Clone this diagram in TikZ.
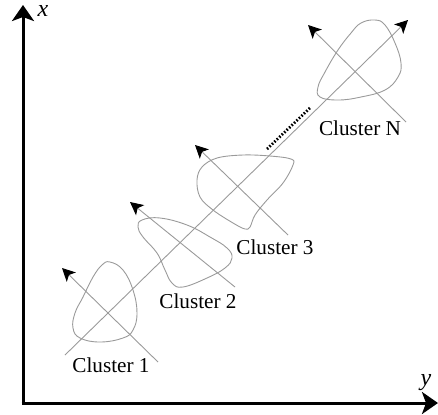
\documentclass[tikz,border=0pt]{standalone}
\usepackage{fontspec}
\setmainfont{Liberation Serif}
\usetikzlibrary{arrows.meta}
\definecolor{Ink}{HTML}{000000}
\definecolor{Wire}{HTML}{9A9A9A}

\begin{document}
\begin{tikzpicture}[x=0.5pt,y=-0.5pt,
  wire/.style={Wire,line width=0.45pt},
  tip/.style={-{Stealth[length=6.5pt,width=6.5pt,inset=1.6pt,color=Ink]}},
  axis/.style={Ink,line width=1.5pt,-{Stealth[length=8pt,width=11pt,inset=2pt]}},
  lab/.style={font=\fontsize{10.6}{12}\selectfont,inner sep=0pt}]
  \useasboundingbox (0,0) rectangle (438,414);
  % axes
  \coordinate (o) at (23,403);
  \coordinate (xtip) at (23,5);
  \coordinate (ytip) at (438,403);
  \draw[axis] ([yshift=-0.75pt]o) -- (xtip);
  \draw[axis] ([xshift=-0.75pt]o) -- (ytip);
  \node[lab,font=\fontsize{12}{14}\selectfont\itshape] (xlab) at (43,11) {x};
  \node[lab,font=\fontsize{12}{14}\selectfont\itshape] (ylab) at (426,383) {y};
  % main direction
  \coordinate (d0) at (65,355);
  \coordinate (d1) at (408,20);
  \draw[wire,tip] (d0) -- (d1);
  % second direction, one per cluster
  \foreach \n/\sx/\sy/\ex/\ey in {1/158/362/62/268, 2/235/287/130/202,
                                 3/288/235/195/145, N/406/122/308/25} {
    \coordinate (s\n) at (\sx,\sy);
    \coordinate (e\n) at (\ex,\ey);
    \draw[wire,tip] (s\n) -- (e\n);
  }
  % cluster outlines
  \draw[wire] plot[smooth cycle,tension=0.7] coordinates {(110,262) (123,270) (133,290)
    (137,313) (133,330) (123,338) (100,342) (80,338) (73,328) (75,313) (83,297) (93,277) (102,265)};
  \draw[wire] plot[smooth cycle,tension=0.7] coordinates {(142,220) (160,218) (187,225)
    (210,237) (227,248) (232,258) (225,268) (207,278) (183,287) (172,283) (165,270)
    (157,253) (143,237) (138,227)};
  \draw[wire] plot[smooth cycle,tension=0.6] coordinates {(197,180) (202,167) (217,158)
    (243,155) (270,156) (291,159) (293,165) (283,183) (267,200) (255,215) (250,227)
    (245,229) (233,223) (213,210) (200,197)};
  \draw[wire] plot[smooth cycle,tension=0.7] coordinates {(375,20) (385,25) (395,43)
    (401,63) (398,77) (385,90) (361,97) (338,100) (320,97) (318,87) (325,72) (338,50)
    (351,33) (361,23)};
  % gap between cluster 3 and cluster N
  \coordinate (g0) at (267,149);
  \coordinate (g1) at (311,107);
  \draw[Ink,line width=1.4pt,dash pattern=on 0.8pt off 0.9pt] (g0) -- (g1);
  % labels
  \node[lab] (lab1) at (111,365) {Cluster 1};
  \node[lab] (lab2) at (198,301) {Cluster 2};
  \node[lab] (lab3) at (275,247) {Cluster 3};
  \node[lab] (labN) at (360,128) {Cluster N};
\end{tikzpicture}
\end{document}
